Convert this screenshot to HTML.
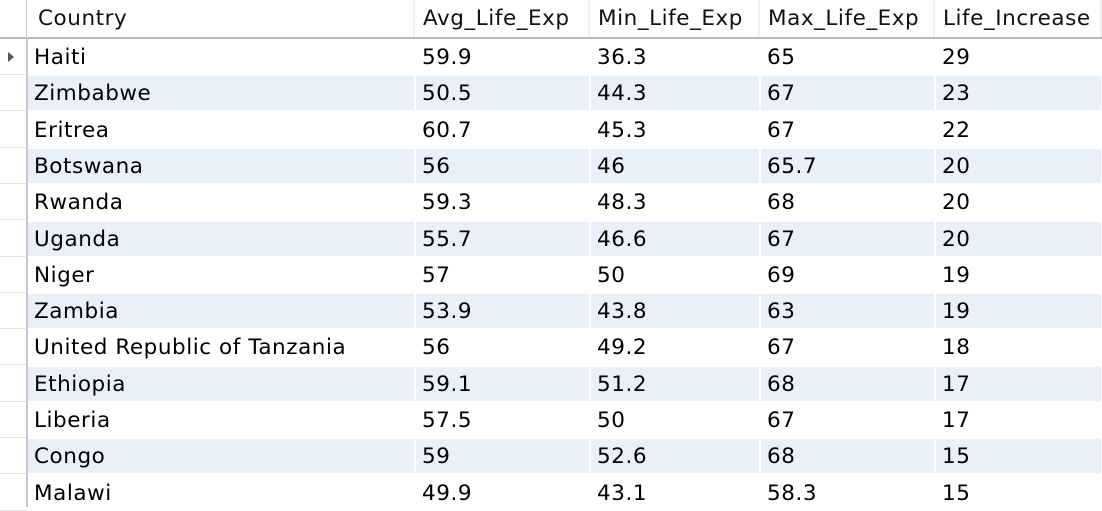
<!DOCTYPE html>
<html><head><meta charset="utf-8"><style>
body{margin:0;width:1102px;height:507px;overflow:hidden;background:#fff;font-family:"DejaVu Sans",sans-serif;font-size:21.5px;letter-spacing:0.55px;color:#000}
.a{position:absolute;white-space:nowrap}
.hd{position:absolute;top:0;height:37px;line-height:38px;background:#fff;border-right:2px solid #f0f0f0;box-sizing:border-box;padding-left:8px;color:#111;white-space:nowrap;overflow:hidden}
.cell{position:absolute;top:0;height:34px;line-height:36px;padding-left:6px;box-sizing:border-box;white-space:nowrap;overflow:hidden}
.gut{position:absolute;left:0;width:27px;height:36px;border-bottom:1px solid #e2e2e2;box-sizing:border-box}
</style></head><body>
<div class="a" style="left:0;top:37px;width:1102px;height:2px;background:#b8b8b8"></div>
<div class="a" style="left:26px;top:0;width:2px;height:507px;background:#c8c8c8"></div>
<div id="hdr"></div>
<div id="rows"></div>
<script>
const columns=["Country","Avg_Life_Exp","Min_Life_Exp","Max_Life_Exp","Life_Increase"];
const countries=["Haiti","Zimbabwe","Eritrea","Botswana","Rwanda","Uganda","Niger","Zambia","United Republic of Tanzania","Ethiopia","Liberia","Congo","Malawi"];
const avgLife=["59.9","50.5","60.7","56","59.3","55.7","57","53.9","56","59.1","57.5","59","49.9"];
const minLife=["36.3","44.3","45.3","46","48.3","46.6","50","43.8","49.2","51.2","50","52.6","43.1"];
const maxLife=["65","67","67","65.7","68","67","69","63","67","68","67","68","58.3"];
const lifeInc=["29","23","22","20","20","20","19","19","18","17","17","15","15"];
const colX=[27,415,590,760,935,1102];
const hdr=document.getElementById('hdr');
columns.forEach((c,i)=>{
 const d=document.createElement('div');d.className='hd';
 
 
 d.style.left=colX[i]+'px';d.style.width=(colX[i+1]-colX[i])+'px';
 if(i==0)d.style.paddingLeft='11px';
 d.textContent=c;hdr.appendChild(d);
});
const rows=document.getElementById('rows');
const rh=36.3,top0=39;
countries.forEach((n,r)=>{
 const y=top0+r*rh;
 const g=document.createElement('div');g.className='gut';
 
 
 g.style.top=y+'px';
 if(r==0){g.innerHTML='<span style="position:absolute;left:8px;top:13px;width:0;height:0;border-top:5px solid transparent;border-bottom:5px solid transparent;border-left:6px solid #555"></span>';}
 rows.appendChild(g);
 const vals=[n,avgLife[r],minLife[r],maxLife[r],lifeInc[r]];
 vals.forEach((v,i)=>{
  const c=document.createElement('div');c.className='cell';
  
  
  c.style.left=(colX[i]+1)+'px';c.style.top=(y+1)+'px';
  c.style.width=(colX[i+1]-colX[i]-2)+'px';
  c.style.background=r%2?'#e9f0fa':'#fff';
  c.textContent=v;document.body.appendChild(c);
 });
});
</script>
</body></html>
